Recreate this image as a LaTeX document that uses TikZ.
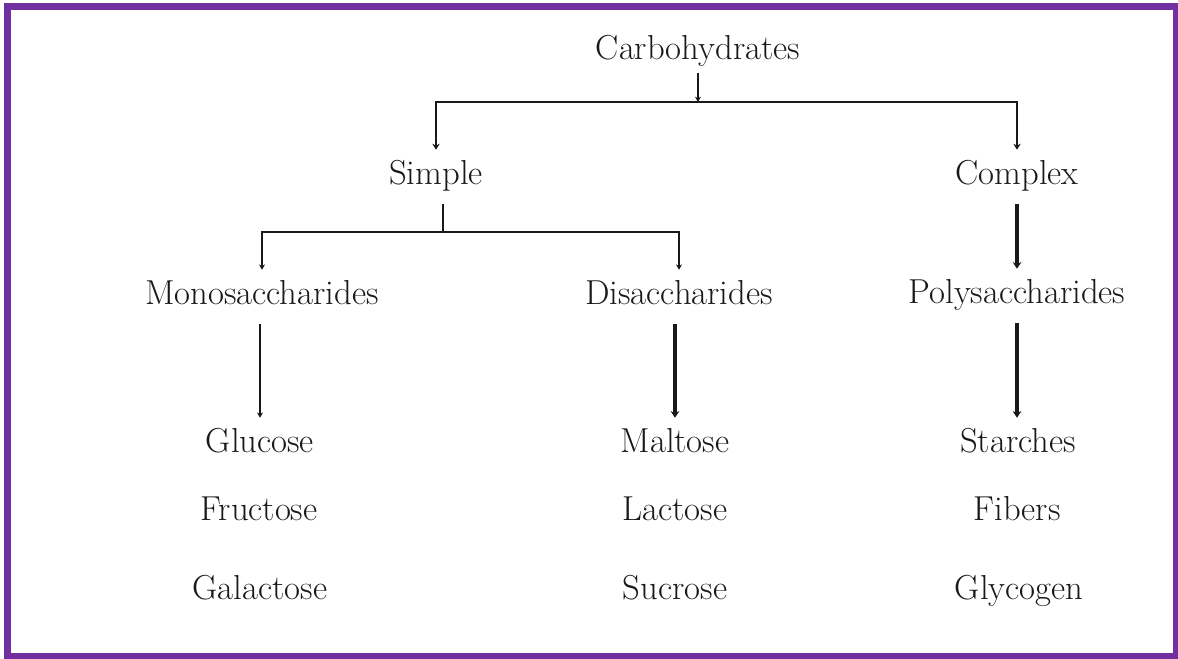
\documentclass[tikz,border=0pt]{standalone}
\usetikzlibrary{arrows.meta}
\definecolor{framepurple}{RGB}{112,48,160}
\definecolor{ink}{RGB}{25,25,25}
\begin{document}
\begin{tikzpicture}[x=0.75pt, y=-0.75pt,
                    term/.style={text=ink, font=\fontsize{26}{30}\selectfont,
                                 text height=17pt, text depth=5.5pt,
                                 inner xsep=2pt, inner ysep=9pt},
                    wire/.style={draw=ink, line width=1.5pt},
                    link/.style={wire, -{Stealth[length=4pt, width=4.5pt]}},
                    bar/.style={wire, line width=2.2pt, -{Stealth[length=4.5pt, width=5.5pt]}},
                    heavy/.style={wire, line width=3pt, -{Stealth[length=5pt, width=6.5pt]}}]
	\useasboundingbox (0,0) rectangle (1178,659);
	\draw[framepurple, line width=5.25pt] (7,6.5) rectangle (1176,656.5);

	\node[term, inner ysep=4pt] (carb) at (698, 52) {Carbohydrates};
	\node[term] (simple) at (436, 177) {Simple};
	\node[term] (complex) at (1017, 177) {Complex};
	\node[term] (mono) at (262, 297) {Monosaccharides};
	\node[term] (di) at (679, 297) {Disaccharides};
	\node[term] (poly) at (1017, 296) {Polysaccharides};
	\node[term] (glu) at (260, 445) {Glucose};
	\node[term] (fru) at (259, 513) {Fructose};
	\node[term] (gal) at (260, 592) {Galactose};
	\node[term] (mal) at (675, 445) {Maltose};
	\node[term] (lac) at (675, 513) {Lactose};
	\node[term] (suc) at (675, 592) {Sucrose};
	\node[term] (sta) at (1018, 445) {Starches};
	\node[term] (fib) at (1017, 513) {Fibers};
	\node[term] (gly) at (1019, 592) {Glycogen};

	\coordinate (cj) at (698, 102);
	\coordinate (sj) at (443, 232);

	\draw[link] 	(carb)  --  (cj);
	\draw[bar] 	(cj)  -|  (simple);
	\draw[bar] 	(cj)  -|  (complex);
	\draw[wire] 	(simple.south -| sj)  --  (sj);
	\draw[link] 	(sj)  -|  (mono);
	\draw[link] 	(sj)  -|  (di);
	\draw[heavy] 	(complex)  --  (poly);
	\draw[link] 	(glu |- mono.south)  --  (glu);
	\draw[heavy] 	(mal |- di.south)  --  (mal);
	\draw[heavy] 	(poly)  --  (poly |- sta.north);

\end{tikzpicture}
\end{document}
